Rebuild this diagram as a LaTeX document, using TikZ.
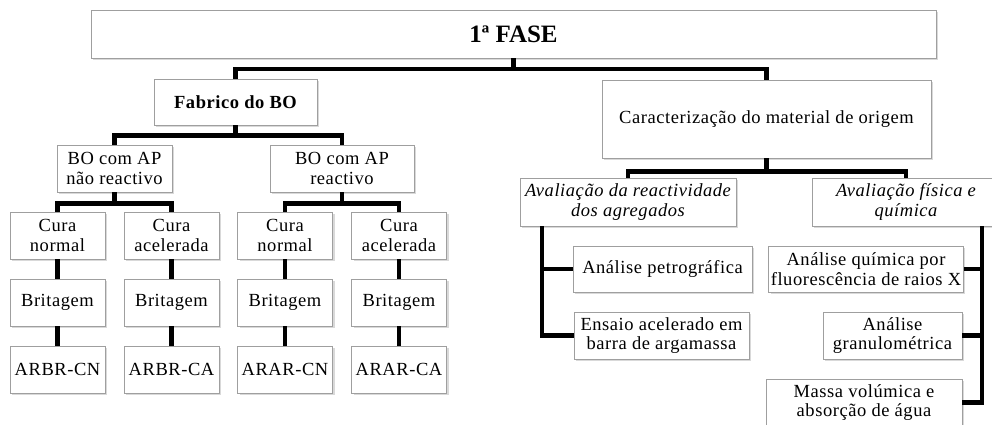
\documentclass[tikz,border=0pt]{standalone}
\usepackage{fontspec}
\setmainfont{Liberation Serif}[LetterSpace=3]
\usetikzlibrary{shadows}

\tikzset{
    box/.style={draw=gray!75, line width=0.8pt, fill=white, align=center, inner sep=2pt,
        drop shadow={shadow xshift=2pt, shadow yshift=-2pt, opacity=0.3},
        font=\fontsize{18.5}{19.5}\selectfont},
    cell/.style={box, minimum width=95pt, minimum height=47pt},
    link/.style={line width=4.2pt, line join=miter}
}

\begin{document}
\begin{tikzpicture}[x=1pt, y=-1pt]
        \useasboundingbox (0,0) rectangle (992,425);
        \clip (0,0) rectangle (992,425);

        % top
        \node[box, font=\fontsize{25}{28}\selectfont\bfseries\addfontfeature{LetterSpace=0}, minimum width=845pt, minimum height=48pt] (fase) at (513.5,34) {1ª FASE};

        % left part
        \node[box, font=\fontsize{18.5}{19.5}\selectfont\bfseries, minimum width=163pt, minimum height=46pt] (fab) at (235.5,102) {Fabrico do BO};
        \node[box, minimum width=115pt, minimum height=47pt] (nreac) at (114.5,168.5) {BO com AP\\não reactivo};
        \node[box, minimum width=144pt, minimum height=47pt] (reac) at (342,168.5) {BO com AP\\reactivo};

        \foreach \n/\x/\cura/\code in {1/57.5/normal/ARBR-CN, 2/171.5/acelerada/ARBR-CA,
                3/285/normal/ARAR-CN, 4/399/acelerada/ARAR-CA} {
            \node[cell] (cura\n) at (\x,235.5) {Cura\\\cura};
            \node[cell] (brit\n) at (\x,302.5) {Britagem};
            \node[cell] (amo\n) at (\x,369.5) {\code};
            \draw[link] (cura\n) -- (brit\n);
            \draw[link] (brit\n) -- (amo\n);
        }

        % right part
        \node[box, minimum width=329pt, minimum height=78pt] (carac) at (766.5,119) {Caracterização do material de origem};
        \node[box, font=\fontsize{18.5}{19.5}\selectfont\itshape, minimum width=216pt, minimum height=48pt] (aval1) at (628,202) {Avaliação da reactividade\\dos agregados};
        \node[box, font=\fontsize{18.5}{19.5}\selectfont\itshape, minimum width=188pt, minimum height=48pt] (aval2) at (906,202) {Avaliação física e\\química};

        \node[box, minimum width=179pt, minimum height=46pt] (petro) at (662.5,269) {Análise petrográfica};
        \node[box, minimum width=175pt, minimum height=47pt] (ensaio) at (661.5,335.5) {Ensaio acelerado em\\barra de argamassa};
        \node[box, minimum width=192pt, minimum height=46pt] (quim) at (866,269) {Análise química por\\fluorescência de raios X};
        \node[box, minimum width=139pt, minimum height=47pt] (granul) at (892.5,335.5) {Análise\\granulométrica};
        \node[box, minimum width=196pt, minimum height=47pt] (massa) at (864,402.5) {Massa volúmica e\\absorção de água};

        % connectors
        \draw[link] (fase.south) -- ++(0,11) -| (fab.north);
        \draw[link] (fase.south) -- ++(0,11) -| (carac.north);

        \draw[link] (fab.south) -- ++(0,10) -| (nreac.north);
        \draw[link] (fab.south) -- ++(0,10) -| (reac.north);

        \draw[link] (nreac.south) -- ++(0,11) -| (cura1.north);
        \draw[link] (nreac.south) -- ++(0,11) -| (cura2.north);
        \draw[link] (reac.south) -- ++(0,11) -| (cura3.north);
        \draw[link] (reac.south) -- ++(0,11) -| (cura4.north);

        \draw[link] (carac.south) -- ++(0,13) -| (aval1.north);
        \draw[link] (carac.south) -- ++(0,13) -| (aval2.north);

        \coordinate (lbus) at ([xshift=22pt]aval1.south west);
        \draw[link] (lbus) |- (petro.west);
        \draw[link] (lbus) |- (ensaio.west);

        \coordinate (rbus) at ([xshift=76pt]aval2.south);
        \draw[link] (rbus) |- (quim.east);
        \draw[link] (rbus) |- (granul.east);
        \draw[link] (rbus) |- (massa.east);
\end{tikzpicture}
\end{document}
